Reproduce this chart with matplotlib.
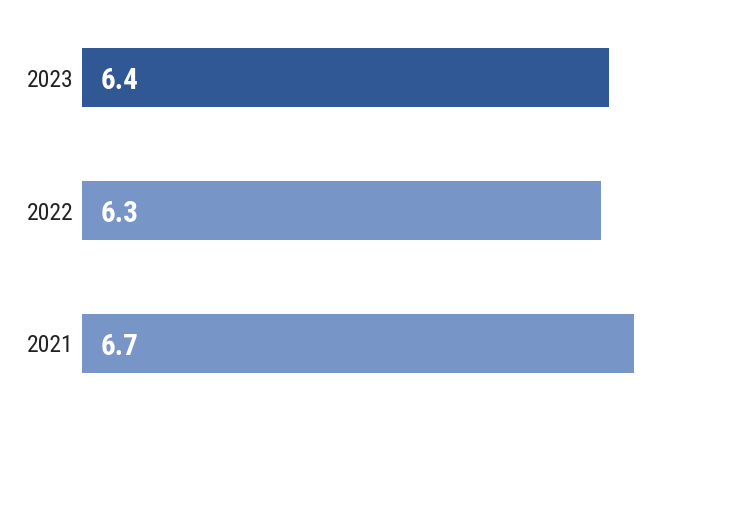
import matplotlib
matplotlib.use("Agg")
import matplotlib.pyplot as plt
from matplotlib import font_manager

years = ["2021", "2022", "2023"]
values = [6.7, 6.3, 6.4]
colors = ["#7795c7", "#7795c7", "#305895"]

names = {f.name for f in font_manager.fontManager.ttflist}
family = "DejaVu Sans"
for cand in ["Roboto Condensed", "Liberation Sans Narrow", "DejaVu Sans Condensed"]:
    if cand in names:
        family = cand
        break
plt.rcParams['font.family'] = [family, 'DejaVu Sans']

fig = plt.figure(figsize=(7.5, 5.31), dpi=100)
ax = fig.add_axes([82/750, 0, 659/750, 1])
pos = list(range(len(years)))
ax.barh(pos, values, height=0.444, color=colors)
ax.set_xlim(0, 8)
ax.set_ylim(-1.41, 2.583)
ax.set_yticks(pos)
ax.set_yticklabels(years, fontsize=17, color="#222222")
ax.tick_params(axis='y', length=0, pad=6)
ax.set_xticks([])
for s in ax.spines.values():
    s.set_visible(False)
for p, v in zip(pos, values):
    ax.text(0.23, p - 0.025, f"{v:.1f}", color="white", fontsize=21, fontweight="bold",
            va="center", ha="left")
fig.savefig("out.png", dpi=100)
